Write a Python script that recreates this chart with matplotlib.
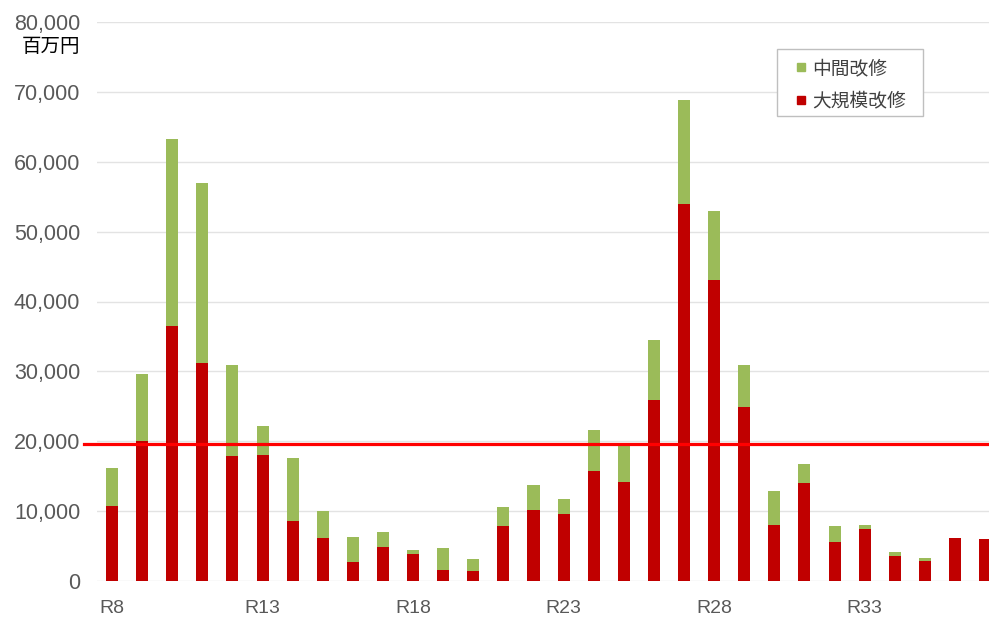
import matplotlib
matplotlib.use("Agg")
import matplotlib.pyplot as plt
from matplotlib.lines import Line2D
from matplotlib.patches import Rectangle
import numpy as np

categories = [f"R{i}" for i in range(8, 38)]
major_repair = [10.8, 20.1, 36.5, 31.2, 17.9, 18.1, 8.6, 6.2, 2.7, 4.8,
                3.9, 1.6, 1.5, 7.8, 10.2, 9.6, 15.8, 14.1, 25.9, 53.9,
                43.1, 24.9, 8.0, 14.0, 5.6, 7.4, 3.6, 2.9, 6.2, 6.0]
total = [16.2, 29.6, 63.2, 57.0, 30.9, 22.2, 17.6, 10.0, 6.3, 7.0,
         4.5, 4.7, 3.2, 10.6, 13.7, 11.7, 21.6, 19.5, 34.5, 68.8,
         53.0, 30.9, 12.9, 16.8, 7.8, 8.0, 4.1, 3.3, 6.2, 6.0]
major_repair = [v * 1000 for v in major_repair]
middle_repair = [t * 1000 - m for t, m in zip(total, major_repair)]
threshold = 19600
yticks = [0, 10000, 20000, 30000, 40000, 50000, 60000, 70000, 80000]
xtick_labels = ["R8", "R13", "R18", "R23", "R28", "R33"]
legend_labels = ["中間改修", "大規模改修"]
unit_label = "百万円"

GREEN = "#9BBB59"
RED = "#C00000"
CJK = ["Noto Sans CJK JP", "DejaVu Sans"]
NUM = ["Liberation Sans", "DejaVu Sans"]

fig = plt.figure(figsize=(9.89, 6.19), dpi=100)
W, H = 989, 619
ax = fig.add_axes([97 / W, 1 - 581 / H, (989 - 97) / W, (581 - 22) / H])

x = np.arange(len(categories))
ax.bar(x, major_repair, width=0.4, color=RED, zorder=3)
ax.bar(x, middle_repair, width=0.4, bottom=major_repair, color=GREEN, zorder=3)

ax.set_xlim(-0.5, 29.13)
ax.set_ylim(0, 80000)
ax.set_yticks(yticks)
ax.set_yticklabels([f"{v:,}" for v in yticks], family=NUM, fontsize=15.5, color="#595959")
ax.set_xticks([categories.index(l) for l in xtick_labels])
ax.set_xticklabels(xtick_labels, family=NUM, fontsize=14, color="#595959")
ax.tick_params(axis="both", length=0)
ax.tick_params(axis="y", pad=12)
ax.tick_params(axis="x", pad=14)
for s in ax.spines.values():
    s.set_visible(False)
ax.grid(axis="y", color="#E3E3E3", linewidth=1, zorder=0)
ax.set_axisbelow(True)

ax.axhline(threshold, xmin=-0.0146, xmax=1, color="#FF0000", linewidth=2.3, clip_on=False, zorder=4)

fig.text(22 / W, 1 - 47 / H, unit_label, family=CJK, fontsize=14, color="black", va="center", ha="left")

frame = Rectangle((777 / W, 1 - 116 / H), 146 / W, 67 / H, transform=fig.transFigure,
                  facecolor="white", edgecolor="#BFBFBF", linewidth=1, zorder=4)
fig.add_artist(frame)
handles = [Line2D([], [], marker="s", linestyle="none", markersize=6, color=GREEN),
           Line2D([], [], marker="s", linestyle="none", markersize=6, color=RED)]
leg = fig.legend(handles, legend_labels, loc="upper left", bbox_to_anchor=(795 / W, 1 - 58 / H),
                 prop={"family": CJK, "size": 13.5}, frameon=False,
                 borderaxespad=0, borderpad=0, handlelength=0.6, handletextpad=0.32,
                 labelspacing=0.6, labelcolor="#404040")
leg.set_zorder(5)

fig.savefig("out.png", dpi=100)
